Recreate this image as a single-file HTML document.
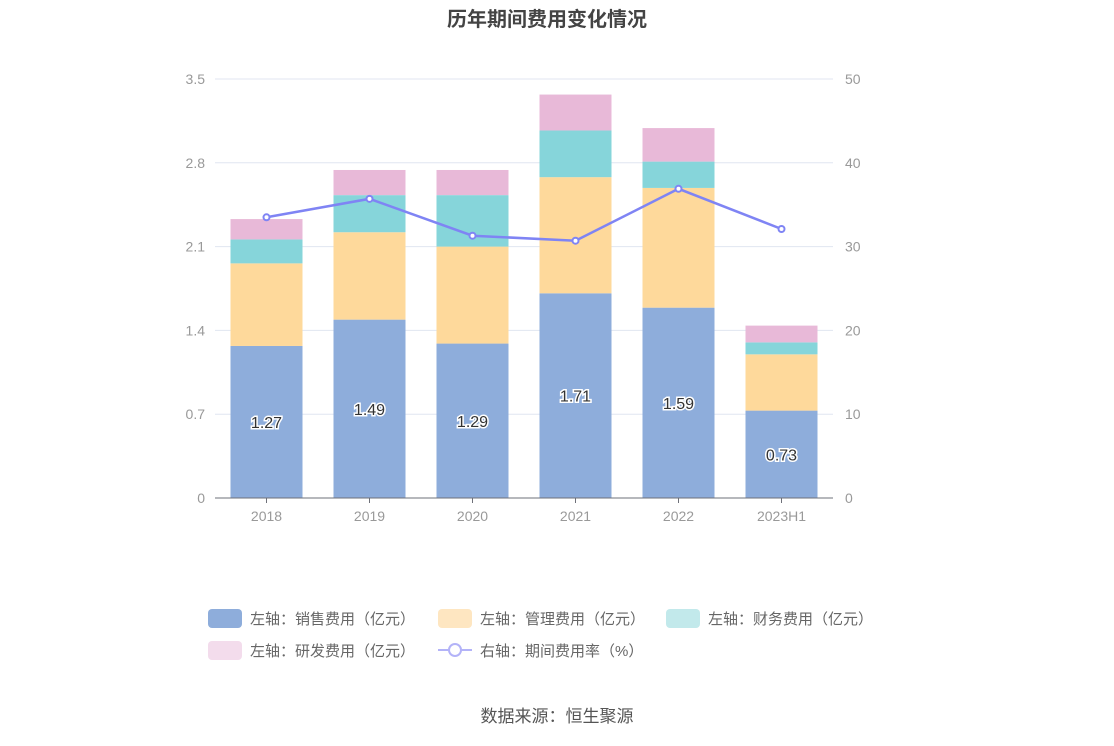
<!DOCTYPE html>
<html><head><meta charset="utf-8"><style>
body{margin:0;background:#fff;width:1114px;height:741px;overflow:hidden;font-family:"Liberation Sans","Noto Sans CJK SC",sans-serif}
</style></head><body>
<svg id="chart" width="1114" height="741" xmlns="http://www.w3.org/2000/svg" font-family="Liberation Sans, Noto Sans CJK SC, sans-serif">
<text x="547" y="26" text-anchor="middle" font-size="20" font-weight="bold" fill="#444">历年期间费用变化情况</text>
<g id="grid"></g><g id="bars"></g><g id="line"></g><g id="axes"></g>
<g font-size="15" fill="#666">
<g><rect x="208" y="609" width="34" height="19" rx="4" fill="#8eaddb"/><text x="250" y="624">左轴：销售费用（亿元）</text></g>
<g><rect x="438" y="609" width="34" height="19" rx="4" fill="#fee6c1"/><text x="480" y="624">左轴：管理费用（亿元）</text></g>
<g><rect x="666" y="609" width="34" height="19" rx="4" fill="#c2e9eb"/><text x="708" y="624">左轴：财务费用（亿元）</text></g>
<g><rect x="208" y="641" width="34" height="19" rx="4" fill="#f3dcec"/><text x="250" y="656">左轴：研发费用（亿元）</text></g>
<g><line x1="438" y1="650" x2="472" y2="650" stroke="#b3b3f8" stroke-width="2"/><circle cx="455" cy="650" r="6" fill="#fff" stroke="#b3b3f8" stroke-width="2"/><text x="480" y="656">右轴：期间费用率（%）</text></g>
</g>
<text x="557" y="722" text-anchor="middle" font-size="17" fill="#555">数据来源：恒生聚源</text>
</svg>
<script>
const categories=["2018","2019","2020","2021","2022","2023H1"];
const sales=[1.27,1.49,1.29,1.71,1.59,0.73];
const admin=[0.69,0.73,0.81,0.97,1.00,0.47];
const finance=[0.20,0.31,0.43,0.39,0.22,0.10];
const rd=[0.17,0.21,0.21,0.30,0.28,0.14];
const rate=[33.5,35.7,31.3,30.7,36.9,32.1];
const leftTicks=["0","0.7","1.4","2.1","2.8","3.5"];
const rightTicks=["0","10","20","30","40","50"];
const NS="http://www.w3.org/2000/svg";
const x0=215,x1=833,yb=498,yt=79;
const yL=v=>yb-(v/3.5)*(yb-yt);
const yR=v=>yb-(v/50)*(yb-yt);
const band=(x1-x0)/categories.length;
const xc=i=>x0+band*(i+0.5);
function mk(tag,attrs,parent){const e=document.createElementNS(NS,tag);for(const k in attrs)e.setAttribute(k,attrs[k]);document.getElementById(parent).appendChild(e);return e;}
leftTicks.forEach((t,i)=>{
 const v=parseFloat(t);const y=yL(v);
 if(i>0){const g=mk("line",{x1:x0,x2:x1,y1:y,y2:y,stroke:"#e0e6f1"},"grid");
 
 }
 const l=mk("text",{x:205,y:y+5,"text-anchor":"end","font-size":"14",fill:"#999"},"axes");l.textContent=t;
 
 
});
rightTicks.forEach(t=>{
 const y=yR(parseFloat(t));
 const l=mk("text",{x:845,y:y+5,"font-size":"14",fill:"#999"},"axes");l.textContent=t;
 
 
});
const ax=mk("line",{x1:x0,x2:x1,y1:yb,y2:yb,stroke:"#6e7079"},"axes");


const series=[[sales,"#8eaddb","sales"],[admin,"#fed99b","admin"],[finance,"#86d5da","finance"],[rd,"#e8b9d8","rd"]];
categories.forEach((c,i)=>{
 const tk=mk("line",{x1:xc(i),x2:xc(i),y1:yb,y2:yb+5,stroke:"#6e7079"},"axes");
 
 
 const lab=mk("text",{x:xc(i),y:yb+23,"text-anchor":"middle","font-size":"14",fill:"#999"},"axes");lab.textContent=c;
 
 
 let cum=0;const w=72;
 series.forEach(([arr,col,nm])=>{
  const top=yL(cum+arr[i]),bot=yL(cum);
  const r=mk("rect",{x:xc(i)-w/2,y:top,width:w,height:bot-top,fill:col},"bars");
  
  
  cum+=arr[i];
 });
 const vl=mk("text",{x:xc(i),y:(yL(sales[i])+yb)/2+6,"text-anchor":"middle","font-size":"16",fill:"#333",stroke:"#fff","stroke-width":"3","paint-order":"stroke"},"bars");
 vl.textContent=sales[i].toFixed(2);
 
 
});
const pts=rate.map((v,i)=>xc(i)+","+yR(v)).join(" ");
const pl=mk("polyline",{points:pts,fill:"none",stroke:"#7f84f4","stroke-width":"2.5"},"line");


rate.forEach((v,i)=>{
 const p=mk("circle",{cx:xc(i),cy:yR(v),r:3,fill:"#fff",stroke:"#7f84f4","stroke-width":"2"},"line");
 
 
});
</script>
</body></html>
